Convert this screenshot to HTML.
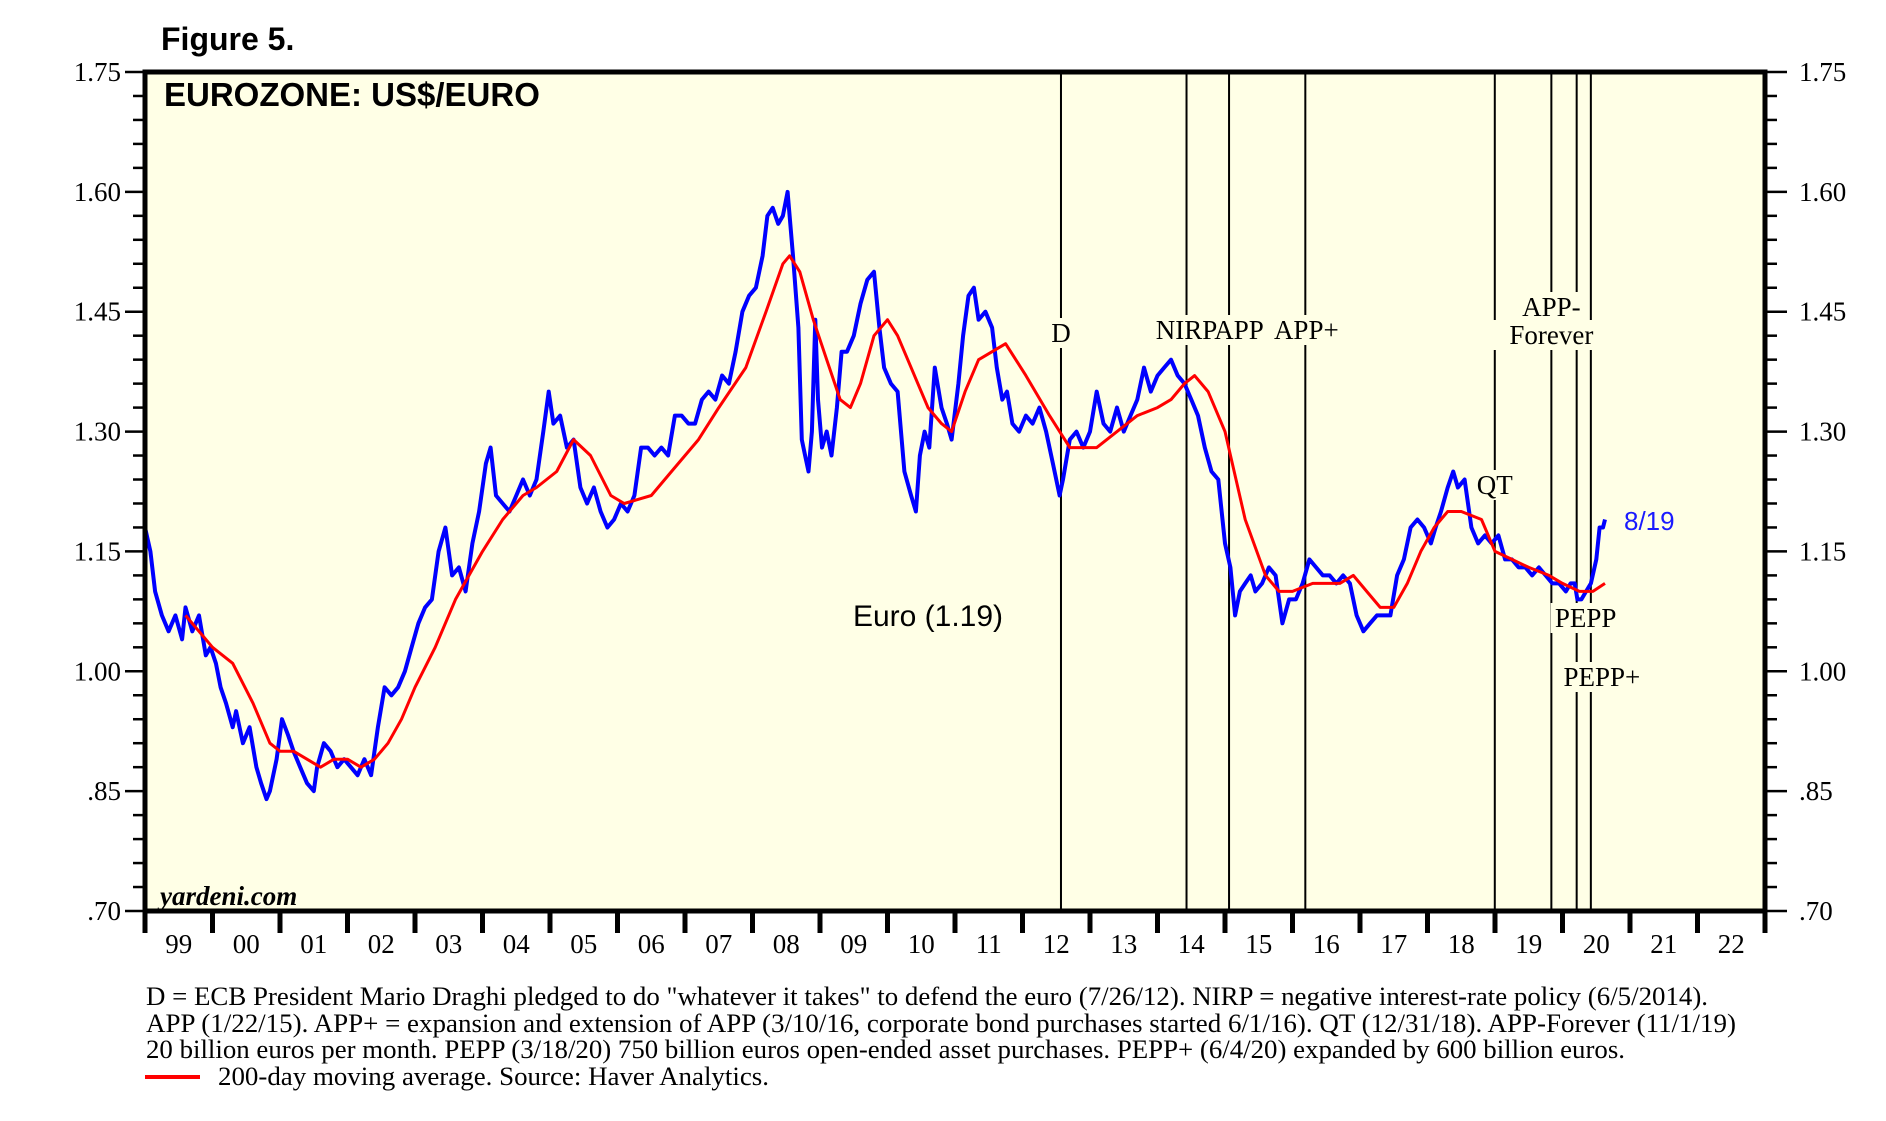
<!DOCTYPE html>
<html><head><meta charset="utf-8"><style>
html,body{margin:0;padding:0;background:#fff;}
body{width:1886px;height:1116px;overflow:hidden;position:relative;font-family:"Liberation Serif",serif;}
.ser{font-family:"Liberation Serif",serif;}
</style></head><body>
<svg id="chart" width="1886" height="1116" viewBox="0 0 1886 1116" xmlns="http://www.w3.org/2000/svg">
<text x="161" y="50" font-family="Liberation Sans, sans-serif" font-weight="bold" font-size="32">Figure 5.</text>
<rect x="145" y="72" width="1620" height="839" fill="#ffffe6"/>
<g id="ticks"></g>
<g id="events"></g>
<g id="series"></g>
<rect x="145" y="72" width="1620" height="839" fill="none" stroke="#000" stroke-width="5"/>
<text x="164" y="106" font-family="Liberation Sans, sans-serif" font-weight="bold" font-size="33">EUROZONE: US$/EURO</text>
<text x="160" y="905" font-style="italic" font-weight="bold" font-size="27" class="ser">yardeni.com</text>
<text x="928" y="626" text-anchor="middle" font-family="Liberation Sans, sans-serif" font-size="30">Euro (1.19)</text>
<text x="1624" y="530" font-family="Liberation Sans, sans-serif" font-size="26" fill="#1a1aff">8/19</text>
<g font-size="26.8" class="ser">
<text x="146" y="1005" textLength="1562" lengthAdjust="spacingAndGlyphs">D = ECB President Mario Draghi pledged to do "whatever it takes" to defend the euro (7/26/12). NIRP = negative interest-rate policy (6/5/2014).</text>
<text x="146" y="1032" textLength="1590" lengthAdjust="spacingAndGlyphs">APP (1/22/15). APP+ = expansion and extension of APP (3/10/16, corporate bond purchases started 6/1/16). QT (12/31/18). APP-Forever (11/1/19)</text>
<text x="146" y="1058" textLength="1479" lengthAdjust="spacingAndGlyphs">20 billion euros per month. PEPP (3/18/20) 750 billion euros open-ended asset purchases. PEPP+ (6/4/20) expanded by 600 billion euros.</text>
<line x1="145" y1="1077" x2="200" y2="1077" stroke="#f00" stroke-width="4"/>
<text x="218" y="1085" textLength="551" lengthAdjust="spacingAndGlyphs">200-day moving average. Source: Haver Analytics.</text>
</g>
</svg>
<script>
const euroDates=[1999.0,1999.08,1999.15,1999.25,1999.35,1999.45,1999.55,1999.6,1999.7,1999.8,1999.9,1999.97,2000.05,2000.12,2000.2,2000.3,2000.35,2000.45,2000.55,2000.65,2000.72,2000.8,2000.85,2000.95,2001.03,2001.12,2001.2,2001.3,2001.4,2001.5,2001.55,2001.65,2001.75,2001.85,2001.95,2002.05,2002.15,2002.25,2002.35,2002.45,2002.55,2002.65,2002.75,2002.85,2002.95,2003.05,2003.15,2003.25,2003.35,2003.45,2003.55,2003.65,2003.75,2003.85,2003.95,2004.05,2004.12,2004.2,2004.3,2004.4,2004.5,2004.6,2004.7,2004.8,2004.9,2004.98,2005.05,2005.15,2005.25,2005.35,2005.45,2005.55,2005.65,2005.75,2005.85,2005.95,2006.05,2006.15,2006.25,2006.35,2006.45,2006.55,2006.65,2006.75,2006.85,2006.95,2007.05,2007.15,2007.25,2007.35,2007.45,2007.55,2007.65,2007.75,2007.85,2007.95,2008.05,2008.15,2008.22,2008.3,2008.38,2008.45,2008.52,2008.6,2008.68,2008.73,2008.78,2008.83,2008.88,2008.93,2008.97,2009.03,2009.1,2009.17,2009.25,2009.32,2009.4,2009.5,2009.6,2009.7,2009.8,2009.88,2009.95,2010.05,2010.15,2010.25,2010.35,2010.42,2010.48,2010.55,2010.62,2010.7,2010.8,2010.88,2010.95,2011.05,2011.12,2011.2,2011.28,2011.35,2011.45,2011.55,2011.62,2011.7,2011.77,2011.85,2011.95,2012.05,2012.15,2012.25,2012.35,2012.45,2012.55,2012.6,2012.7,2012.8,2012.9,2013.0,2013.1,2013.2,2013.3,2013.4,2013.5,2013.6,2013.7,2013.8,2013.9,2014.0,2014.1,2014.2,2014.3,2014.4,2014.5,2014.6,2014.7,2014.8,2014.9,2015.0,2015.08,2015.15,2015.22,2015.3,2015.38,2015.45,2015.55,2015.65,2015.75,2015.85,2015.95,2016.05,2016.15,2016.25,2016.35,2016.45,2016.55,2016.65,2016.75,2016.85,2016.95,2017.05,2017.15,2017.25,2017.35,2017.45,2017.55,2017.65,2017.75,2017.85,2017.95,2018.05,2018.12,2018.2,2018.3,2018.38,2018.45,2018.55,2018.65,2018.75,2018.85,2018.95,2019.05,2019.15,2019.25,2019.35,2019.45,2019.55,2019.65,2019.75,2019.85,2019.95,2020.05,2020.12,2020.18,2020.22,2020.28,2020.35,2020.42,2020.5,2020.55,2020.6,2020.63];
const euroValues=[1.18,1.15,1.10,1.07,1.05,1.07,1.04,1.08,1.05,1.07,1.02,1.03,1.01,0.98,0.96,0.93,0.95,0.91,0.93,0.88,0.86,0.84,0.85,0.89,0.94,0.92,0.90,0.88,0.86,0.85,0.88,0.91,0.90,0.88,0.89,0.88,0.87,0.89,0.87,0.93,0.98,0.97,0.98,1.00,1.03,1.06,1.08,1.09,1.15,1.18,1.12,1.13,1.10,1.16,1.20,1.26,1.28,1.22,1.21,1.20,1.22,1.24,1.22,1.24,1.30,1.35,1.31,1.32,1.28,1.29,1.23,1.21,1.23,1.20,1.18,1.19,1.21,1.20,1.22,1.28,1.28,1.27,1.28,1.27,1.32,1.32,1.31,1.31,1.34,1.35,1.34,1.37,1.36,1.40,1.45,1.47,1.48,1.52,1.57,1.58,1.56,1.57,1.60,1.52,1.43,1.29,1.27,1.25,1.30,1.44,1.34,1.28,1.30,1.27,1.33,1.40,1.40,1.42,1.46,1.49,1.50,1.43,1.38,1.36,1.35,1.25,1.22,1.20,1.27,1.30,1.28,1.38,1.33,1.31,1.29,1.36,1.42,1.47,1.48,1.44,1.45,1.43,1.38,1.34,1.35,1.31,1.30,1.32,1.31,1.33,1.30,1.26,1.22,1.24,1.29,1.30,1.28,1.30,1.35,1.31,1.30,1.33,1.30,1.32,1.34,1.38,1.35,1.37,1.38,1.39,1.37,1.36,1.34,1.32,1.28,1.25,1.24,1.16,1.13,1.07,1.10,1.11,1.12,1.10,1.11,1.13,1.12,1.06,1.09,1.09,1.11,1.14,1.13,1.12,1.12,1.11,1.12,1.11,1.07,1.05,1.06,1.07,1.07,1.07,1.12,1.14,1.18,1.19,1.18,1.16,1.18,1.20,1.23,1.25,1.23,1.24,1.18,1.16,1.17,1.16,1.17,1.14,1.14,1.13,1.13,1.12,1.13,1.12,1.11,1.11,1.10,1.11,1.11,1.09,1.09,1.10,1.11,1.14,1.18,1.18,1.19];
const maDates=[1999.6,1999.8,2000.0,2000.3,2000.6,2000.85,2001.0,2001.2,2001.4,2001.6,2001.8,2002.0,2002.2,2002.4,2002.6,2002.8,2003.0,2003.3,2003.6,2004.0,2004.3,2004.6,2004.8,2005.1,2005.35,2005.6,2005.9,2006.1,2006.5,2006.8,2007.2,2007.5,2007.9,2008.2,2008.45,2008.55,2008.7,2008.9,2009.1,2009.3,2009.45,2009.6,2009.8,2010.0,2010.15,2010.35,2010.6,2010.8,2010.95,2011.15,2011.35,2011.55,2011.75,2011.9,2012.05,2012.4,2012.7,2012.9,2013.1,2013.4,2013.7,2014.0,2014.2,2014.4,2014.55,2014.75,2015.0,2015.3,2015.6,2015.8,2016.0,2016.3,2016.5,2016.7,2016.9,2017.1,2017.3,2017.5,2017.7,2017.9,2018.1,2018.3,2018.5,2018.8,2019.0,2019.25,2019.5,2019.8,2020.0,2020.25,2020.45,2020.63];
const maValues=[1.07,1.05,1.03,1.01,0.96,0.91,0.90,0.90,0.89,0.88,0.89,0.89,0.88,0.89,0.91,0.94,0.98,1.03,1.09,1.15,1.19,1.22,1.23,1.25,1.29,1.27,1.22,1.21,1.22,1.25,1.29,1.33,1.38,1.45,1.51,1.52,1.50,1.44,1.39,1.34,1.33,1.36,1.42,1.44,1.42,1.38,1.33,1.31,1.30,1.35,1.39,1.40,1.41,1.39,1.37,1.32,1.28,1.28,1.28,1.30,1.32,1.33,1.34,1.36,1.37,1.35,1.30,1.19,1.12,1.10,1.10,1.11,1.11,1.11,1.12,1.10,1.08,1.08,1.11,1.15,1.18,1.20,1.20,1.19,1.15,1.14,1.13,1.12,1.11,1.10,1.10,1.11];
const leftTicks=["1.75","1.60","1.45","1.30","1.15","1.00",".85",".70"];
const tickVals=[1.75,1.60,1.45,1.30,1.15,1.00,0.85,0.70];
const yearLabels=["99","00","01","02","03","04","05","06","07","08","09","10","11","12","13","14","15","16","17","18","19","20","21","22"];
const eventNames=["D","NIRP","APP","APP+","QT","APP-Forever","PEPP","PEPP+"];
const eventDates=[2012.57,2014.43,2015.06,2016.19,2018.997,2019.835,2020.21,2020.42];

const NS="http://www.w3.org/2000/svg";
const X0=145,X1=1765,Y0=72,Y1=911;
const x=d=>X0+(d-1999)*(X1-X0)/24;
const y=v=>Y1-(v-0.70)*(Y1-Y0)/1.05;
function mk(tag,attrs,parent){const e=document.createElementNS(NS,tag);for(const k in attrs)e.setAttribute(k,attrs[k]);parent.appendChild(e);return e;}

const tg=document.getElementById('ticks');
for(let i=0;i<=35;i++){
  const v=0.70+i*0.03;const yy=y(v);const major=i%5===0;
  const l1=mk('line',{x1:major?125:133,y1:yy,x2:145,y2:yy,stroke:'#000','stroke-width':2.5},tg);
  
  
  const l2=mk('line',{x1:1765,y1:yy,x2:major?1787:1777,y2:yy,stroke:'#000','stroke-width':2.5},tg);
  
  
}
leftTicks.forEach((t,i)=>{
  const a=mk('text',{x:121,y:y(tickVals[i])+9,'text-anchor':'end','font-size':27,'font-family':'Liberation Serif, serif'},tg);
  a.textContent=t;
  
  
  const b=mk('text',{x:1799,y:y(tickVals[i])+9,'font-size':27,'font-family':'Liberation Serif, serif'},tg);
  b.textContent=t;
  
  
});
for(let i=0;i<=24;i++){
  const t=mk('line',{x1:x(1999+i),y1:911,x2:x(1999+i),y2:933,stroke:'#000','stroke-width':5},tg);
  
  
}
yearLabels.forEach((l,i)=>{
  const t=mk('text',{x:x(1999.5+i),y:953,'text-anchor':'middle','font-size':27,'font-family':'Liberation Serif, serif'},tg);
  t.textContent=l;
  
  
});

const eg=document.getElementById('events');
const labelPos={"D":[342],"NIRP":[339],"APP":[339],"APP+":[339],"QT":[494],"APP-Forever":[316,344],"PEPP":[627],"PEPP+":[686]};
const labelDx={"D":0,"NIRP":0,"APP":10,"APP+":1,"QT":0,"APP-Forever":0,"PEPP":9,"PEPP+":11};
eventNames.forEach((n,i)=>{
  const xx=x(eventDates[i]);
  const ln=mk('line',{x1:xx,y1:Y0,x2:xx,y2:Y1,stroke:'#000','stroke-width':2},eg);
  
  
});
eventNames.forEach((n,i)=>{
  const xx=x(eventDates[i])+labelDx[n];
  const ys=labelPos[n];
  const lines=n==="APP-Forever"?["APP-","Forever"]:[n];
  lines.forEach((s,j)=>{
    const w=s.length*16+6;
    mk('rect',{x:xx-w/2,y:ys[j]-24,width:w,height:30,fill:'#ffffe6'},eg);
  });
});
eventNames.forEach((n,i)=>{
  const xx=x(eventDates[i])+labelDx[n];
  const ys=labelPos[n];
  const lines=n==="APP-Forever"?["APP-","Forever"]:[n];
  lines.forEach((s,j)=>{
    const t=mk('text',{x:xx,y:ys[j],'text-anchor':'middle','font-size':27,'font-family':'Liberation Serif, serif'},eg);
    t.textContent=s;
    
    
  });
});

const sg=document.getElementById('series');
const bp=mk('path',{d:euroDates.map((d,i)=>(i?'L':'M')+x(d).toFixed(1)+','+y(euroValues[i]).toFixed(1)).join(''),fill:'none',stroke:'#0000ff','stroke-width':4,'stroke-linejoin':'round'},sg);


const rp=mk('path',{d:maDates.map((d,i)=>(i?'L':'M')+x(d).toFixed(1)+','+y(maValues[i]).toFixed(1)).join(''),fill:'none',stroke:'#ff0000','stroke-width':3,'stroke-linejoin':'round'},sg);


</script>
</body></html>
